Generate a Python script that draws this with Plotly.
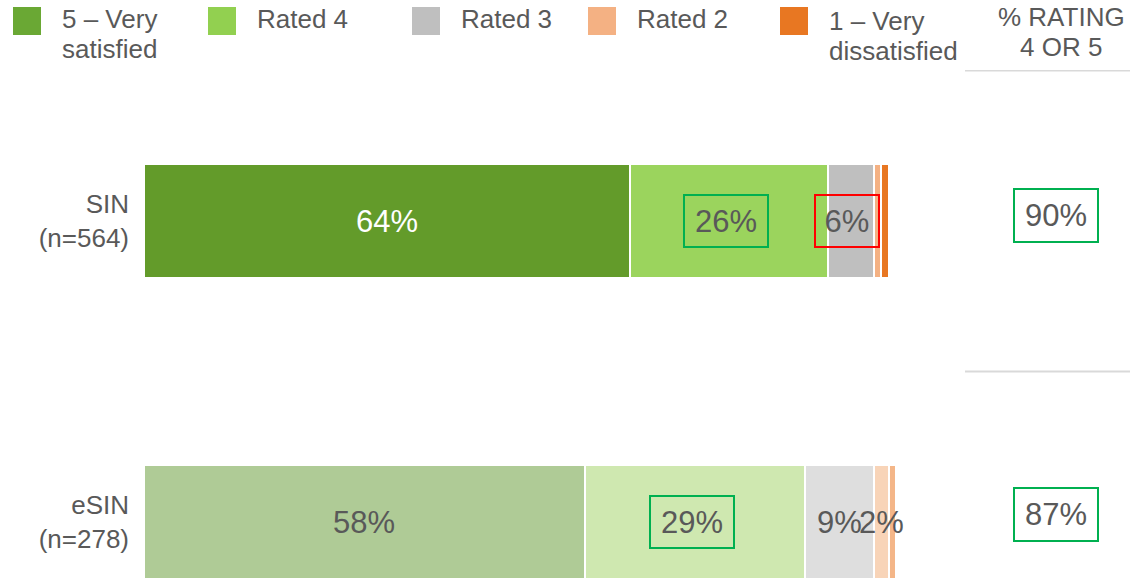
import plotly.graph_objects as go

# ---------------- data ----------------
categories = ["SIN<br>(n=564)", "eSIN<br>(n=278)"]
series_names = ["5 – Very satisfied", "Rated 4", "Rated 3", "Rated 2", "1 – Very dissatisfied"]
legend_lines = [["5 – Very", "satisfied"], ["Rated 4"], ["Rated 3"], ["Rated 2"], ["1 – Very", "dissatisfied"]]
very_satisfied = [64, 58]
rated_4 = [26, 29]
rated_3 = [6, 9]
rated_2 = [1, 2]
very_dissatisfied = [1, 1]
top2_pct = [90, 87]
top2_header = ["% RATING", "4 OR 5"]

series_values = [very_satisfied, rated_4, rated_3, rated_2, very_dissatisfied]
# highlight boxes: (series index, category index) -> colour
highlights = {(1, 0): "#00b050", (2, 0): "#ff0000", (1, 1): "#00b050"}

# ---------------- styles ----------------
W, H = 1130, 578
L, PR, T, PB = 144, 904, 70, 578
FONT = "Liberation Sans, Arial, sans-serif"
TXT = "#595959"
colors_main = ["#639b2a", "#9bd45d", "#bfbfbf", "#f4b183", "#e87722"]
colors_faded = ["#afcb96", "#cfe8b0", "#dedede", "#f8d4b8", "#f4b688"]
legend_colors = ["#6aa834", "#92d050", "#bfbfbf", "#f4b183", "#e87722"]


def px_x(p):
    return (p - L) / (PR - L)


def px_y(p):
    return (PB - p) / (PB - T)


fig = go.Figure()
for i, (name, vals) in enumerate(zip(series_names, series_values)):
    fig.add_trace(go.Bar(
        name=name, y=categories, x=vals, orientation="h",
        marker=dict(color=[colors_main[i], colors_faded[i]],
                    line=dict(color="white", width=2)),
        width=0.38, showlegend=False, hoverinfo="x+name",
    ))

annotations = []
shapes = []

# value labels inside segments
for ci, cat in enumerate(categories):
    start = 0
    for si, vals in enumerate(series_values):
        v = vals[ci]
        centre = start + v / 2
        start += v
        if v < 2:
            continue
        color = "white" if (si == 0 and ci == 0) else TXT
        ann = dict(x=centre, y=cat, xref="x", yref="y", text=f"{v}%",
                   xanchor="center", yanchor="middle",
                   showarrow=False, font=dict(size=31, color=color, family=FONT))
        if (si, ci) in highlights:
            ann.update(bordercolor=highlights[(si, ci)], borderwidth=2, borderpad=1,
                       width=80 if v >= 10 else 60, height=48)
            ann.update(xshift=-4 if si == 2 else -3)
        annotations.append(ann)

# right column: % rating 4 or 5
col_x = px_x(1056)
for ci, cat in enumerate(categories):
    annotations.append(dict(x=col_x, y=cat, xref="paper", yref="y", text=f"{top2_pct[ci]}%",
                            xanchor="center", yanchor="middle",
                            showarrow=False, yshift=6 if ci == 0 else 8,
                            font=dict(size=31, color=TXT, family=FONT),
                            bordercolor="#00b050", borderwidth=2, borderpad=1,
                            width=80, height=49))
for k, line in enumerate(top2_header):
    annotations.append(dict(x=px_x(1061), y=px_y(17 + 30 * k), xref="paper", yref="paper",
                            text=line, showarrow=False, xanchor="center", yanchor="middle",
                            font=dict(size=26, color=TXT, family=FONT)))
for yb in [-0.5, 0.5]:
    shapes.append(dict(type="line", xref="paper", yref="y", x0=px_x(965), x1=px_x(1130),
                       y0=yb, y1=yb, line=dict(color="#d9d9d9", width=2)))

# custom legend
legend_sq_x = [13, 208, 412, 588, 780]
for i, lines in enumerate(legend_lines):
    x0 = legend_sq_x[i]
    shapes.append(dict(type="rect", xref="paper", yref="paper",
                       x0=px_x(x0), x1=px_x(x0 + 28), y0=px_y(35), y1=px_y(7),
                       fillcolor=legend_colors[i], line=dict(width=0)))
    first = 21 if i == 4 else 19
    for k, line in enumerate(lines):
        annotations.append(dict(x=px_x(x0 + 47), y=px_y(first + 30 * k),
                                xref="paper", yref="paper", text=line, showarrow=False,
                                xanchor="left", yanchor="middle",
                                font=dict(size=26, color=TXT, family=FONT)))

fig.update_layout(
    width=W, height=H, barmode="stack",
    margin=dict(l=L, r=W - PR, t=T, b=H - PB, pad=0),
    plot_bgcolor="white", paper_bgcolor="white",
    font=dict(family=FONT, color=TXT, size=26),
    xaxis=dict(range=[0, 100], visible=False, fixedrange=True),
    yaxis=dict(type="category", categoryorder="array", categoryarray=categories,
               range=[1.186, -0.502], showgrid=False, zeroline=False, showline=False,
               ticks="", ticklabelstandoff=14, fixedrange=True,
               tickfont=dict(size=26, color=TXT, family=FONT)),
    annotations=annotations, shapes=shapes, showlegend=False,
)

fig.write_html("out.html", config={"displayModeBar": False},
               post_script="document.body.style.margin='0';document.body.style.overflow='hidden';")
